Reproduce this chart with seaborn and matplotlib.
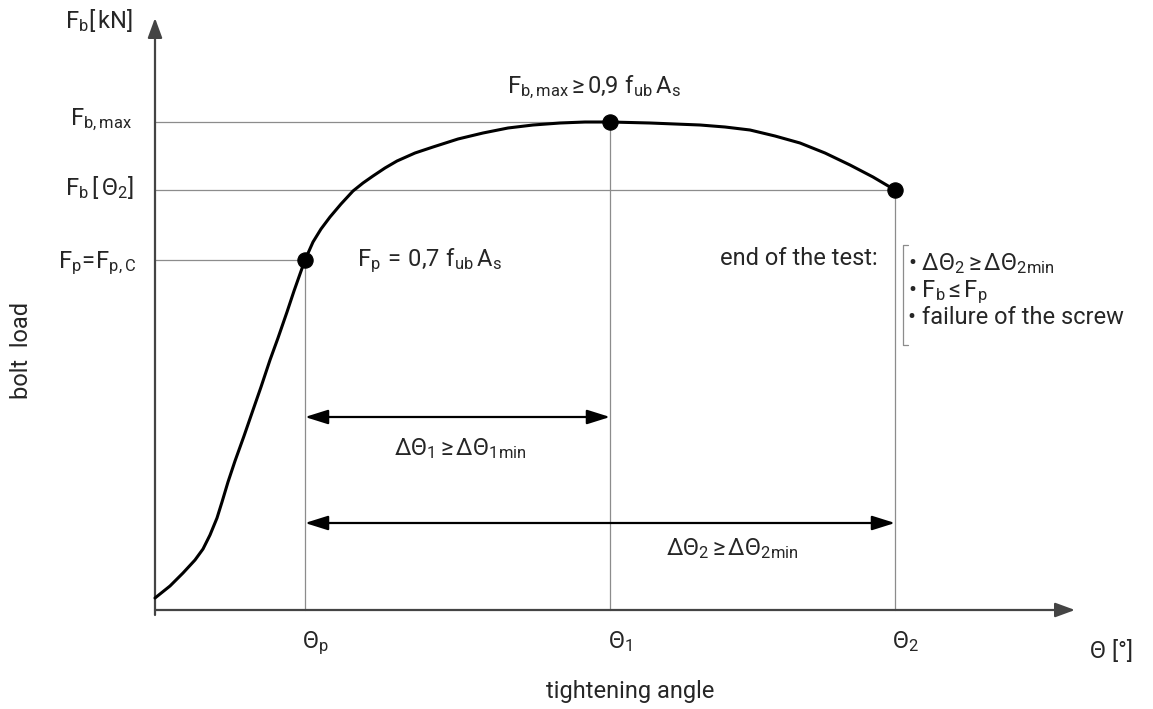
import matplotlib
matplotlib.use("Agg")
import seaborn as sns
import matplotlib.pyplot as plt

# schematic bolt-load / tightening-angle curve (arbitrary units)
theta = [0, 15, 28, 40, 48, 55, 62, 67, 73, 80, 89, 98, 106, 115, 123, 132, 139, 145, 150,
         158, 166, 175, 186, 198, 208, 218, 230, 242, 260, 278, 303, 328, 353, 378, 405, 430,
         455, 495, 545, 570, 595, 620, 645, 670, 695, 718, 740]
load = [12, 24, 37, 50, 61, 75, 92, 108, 128, 149, 174, 200, 223, 250, 272, 298, 319, 336, 350,
        368, 381, 393, 406, 419, 427, 434, 442, 449, 457, 463, 471, 477, 482, 485, 487, 488,
        488, 487, 485, 483, 480, 474, 467, 457, 445, 433, 420]

# marked points: Theta_p, Theta_1, Theta_2
pt_theta = [150, 455, 740]
pt_load = [350, 488, 420]
tick_labels = [r'$\mathrm{Θ_{p}}$', r'$\mathrm{Θ_{1}}$', r'$\mathrm{Θ_{2}}$']
load_labels = [r'$\mathrm{F_{p}\!=\!F_{p,C}}$', r'$\mathrm{F_{b,max}}$', r'$\mathrm{F_{b}\,[\,Θ_{2}]}$']

sns.set_style('white')
plt.rcParams['font.family'] = ['Roboto', 'DejaVu Sans']
plt.rcParams['mathtext.fontset'] = 'custom'
plt.rcParams['mathtext.rm'] = 'Roboto'
plt.rcParams['mathtext.it'] = 'Roboto:italic'
plt.rcParams['mathtext.bf'] = 'Roboto:bold'

FS = 17
AX_COL = '#444444'
REF_COL = '#8c8c8c'

fig = plt.figure(figsize=(11.53, 7.09), dpi=100)
ax = fig.add_axes([0, 0, 1, 1])
ax.set_xlim(-155, 998)
ax.set_ylim(-99, 610)
ax.axis('off')

# axes with arrows
ax.annotate('', xy=(0, 592), xytext=(0, -5),
            arrowprops=dict(arrowstyle='-|>,head_length=0.6,head_width=0.22', color=AX_COL,
                            lw=1.6, shrinkA=0, shrinkB=0, mutation_scale=20))
ax.annotate('', xy=(920, 0), xytext=(0, 0),
            arrowprops=dict(arrowstyle='-|>,head_length=0.6,head_width=0.22', color=AX_COL,
                            lw=1.6, shrinkA=0, shrinkB=0, mutation_scale=20))

# guide lines to the marked points
for th, ld in zip(pt_theta, pt_load):
    ax.plot([0, th], [ld, ld], color=REF_COL, lw=0.9, zorder=1)
    ax.plot([th, th], [0, ld], color=REF_COL, lw=0.9, zorder=1)

sns.lineplot(x=theta, y=load, color='black', lw=2.2, sort=False, estimator=None, ax=ax, zorder=3)
ax.lines[-1].set_solid_joinstyle('round')
sns.scatterplot(x=pt_theta, y=pt_load, s=120, color='black', edgecolor='black', zorder=5, ax=ax)

# angle ranges
for y, x1 in [(193, pt_theta[1]), (87, pt_theta[2])]:
    ax.annotate('', xy=(x1, y), xytext=(pt_theta[0], y),
                arrowprops=dict(arrowstyle='<|-|>,head_length=0.7,head_width=0.22', color='black',
                                lw=1.6, shrinkA=0, shrinkB=0, mutation_scale=20))

# texts on the load axis
ax.text(-90, 582, r'$\mathrm{F_{b}[\,kN]}$', fontsize=FS, va='baseline', ha='left')
ax.text(-85, 485, load_labels[1], fontsize=FS, va='baseline', ha='left')
ax.text(-90, 415, load_labels[2], fontsize=FS, va='baseline', ha='left')
ax.text(-97, 342, load_labels[0], fontsize=FS, va='baseline', ha='left')
ax.text(-133, 260, 'bolt  load', fontsize=FS, rotation=90, va='center', ha='center')

# texts on the angle axis
for th, lab in zip(pt_theta, tick_labels):
    ax.text(th + 10, -38, lab, fontsize=FS, va='baseline', ha='center')
ax.text(935, -48, 'Θ [°]', fontsize=FS, va='baseline', ha='left')
ax.text(475, -88, 'tightening angle', fontsize=FS, va='baseline', ha='center')

# annotations
ax.text(439, 517, r'$\mathrm{F_{b,max}\,≥\,0{,}9\ f_{ub}\,A_{s}}$', fontsize=FS, va='baseline', ha='center')
ax.text(202, 344, r'$\mathrm{F_{p}\,=\,0{,}7\ f_{ub}\,A_{s}}$', fontsize=FS, va='baseline', ha='left')
ax.text(305, 155, r'$\mathrm{ΔΘ_{1}\,≥\,ΔΘ_{1min}}$', fontsize=FS, va='baseline', ha='center')
ax.text(577, 55, r'$\mathrm{ΔΘ_{2}\,≥\,ΔΘ_{2min}}$', fontsize=FS, va='baseline', ha='center')

ax.text(723, 345, 'end of the test:', fontsize=FS, va='baseline', ha='right')
ax.plot([753, 748, 748, 753], [365, 365, 265, 265], color=REF_COL, lw=0.9)
ax.text(753, 340, r'• $\mathrm{ΔΘ_{2}\,≥\,ΔΘ_{2min}}$', fontsize=FS, va='baseline', ha='left')
ax.text(753, 313, r'• $\mathrm{F_{b}\,≤\,F_{p}}$', fontsize=FS, va='baseline', ha='left')
ax.text(753, 286, '• failure of the screw', fontsize=FS, va='baseline', ha='left')

fig.savefig('out.png', dpi=100)
